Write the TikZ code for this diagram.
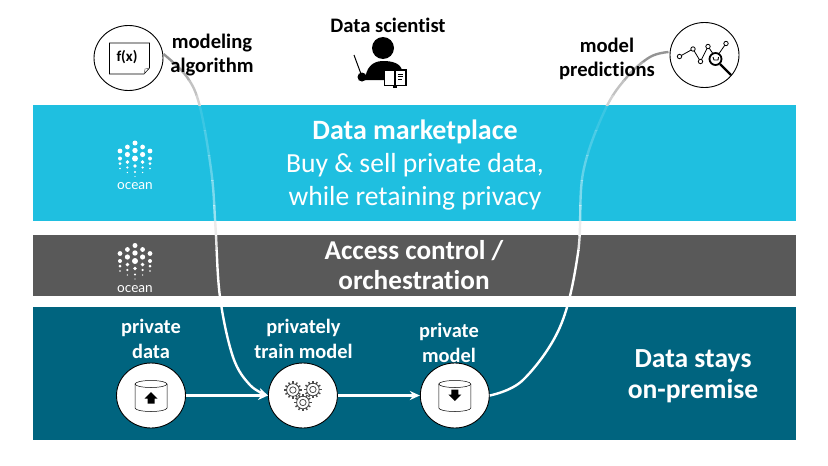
\documentclass[tikz,border=0pt]{standalone}
\usepackage{fontspec}
\setmainfont{Carlito}[Ligatures=NoCommon]
\newfontfamily\logofont{Lato}
\usetikzlibrary{arrows.meta,shapes.geometric,positioning,calc}

\definecolor{bandcyan}{HTML}{1FBFE0}
\definecolor{bandgray}{HTML}{595959}
\definecolor{bandteal}{HTML}{00647F}

% dots of the ocean logo, #1 = centre of the top dot
\newcommand{\oceandots}[2]{
  \foreach \dx/\dy/\dr in {0/0/2.5,0/7.5/2.7,0/15.5/3,0/23/1.9,0/29/1.1,0/33.5/.6,
      -7.6/4/2.4,7.6/4/2.4,-7.6/11.5/2.6,7.6/11.5/2.6,-7.6/19/1.9,7.6/19/1.9,-7.6/24.5/1.2,7.6/24.5/1.2,-7.6/29.5/.7,7.6/29.5/.7,
      -15/8/2.4,15/8/2.4,-15/15.5/2,15/15.5/2,-15/20.5/1.5,15/20.5/1.5,-15/25.5/.8,15/25.5/.8}
    \fill[#2] ($(#1)+(\dx,\dy)$) circle (\dr);
}
% one gear, #1 = centre
\newcommand{\gearicon}[1]{
  \foreach \a in {0,30,...,330}
    \draw[black!70, line width=1.4pt] ($(#1)+(\a:6)$) -- ($(#1)+(\a:8.6)$);
  \draw[black!70, line width=.8pt] (#1) circle (6.3);
  \draw[black!70, line width=.8pt] (#1) circle (3.2);
}
% drum with an arrow, #1 = centre, #2 = direction (1 up, -1 down)
\newcommand{\drumicon}[2]{
  \draw[black, line width=.5pt, fill=white] ($(#1)+(-16,-11.5)$) -- ($(#1)+(-16,12.5)$)
    arc[start angle=180, end angle=360, x radius=16, y radius=-3.5] -- ($(#1)+(16,-11.5)$);
  \draw[black, line width=.5pt] ($(#1)+(0,-11.5)$) ellipse (16 and 3.5);
  \fill[black] ($(#1)+(0,-4.5*#2+1)$) -- ++(6.5,6.5*#2) -- ++(-3,0) -- ++(0,5*#2) -- ++(-7,0) -- ++(0,-5*#2) -- ++(-3,0) -- cycle;
}
% a curve that fades out towards the top, #1 = options, #2 = path
\newcommand{\fadecurve}[2]{
  \foreach \ya/\yb/\col/\op in {40/62/black!42/1,62/80/black!32/1,80/95/black!24/1,95/105/black!18/1,
      105/130/white/.12,130/155/white/.2,155/180/white/.3,180/205/white/.42,205/221/white/.55,
      221/235/black!8/1,235/250/white/.85,250/441/white/1} {
    \begin{scope}
      \clip (0,\ya) rectangle (828,\yb);
      \draw[#1, \col, opacity=\op] #2;
    \end{scope}
  }
}

\begin{document}
\begin{tikzpicture}[x=1pt, y=-1pt,
    roundicon/.style={ellipse, draw=black, line width=.9pt, fill=white, minimum width=69pt, minimum height=65pt, inner sep=0pt},
    toplabel/.style={font=\bfseries\fontsize{20.6}{24}\selectfont, align=center, text=black, inner sep=0pt},
    steplabel/.style={font=\bfseries\fontsize{20.4}{25}\selectfont, align=center, text=white, inner sep=0pt},
    bandlabel/.style={align=center, text=white, inner sep=0pt},
    logolabel/.style={font=\logofont\fontsize{13.6}{14}\selectfont, inner sep=0pt},
    flowline/.style={-{Stealth[length=10pt, width=9pt]}, white, line width=2.2pt},
    fadeline/.style={line width=2.4pt}]

  \useasboundingbox (0,0) rectangle (828,466);
  \fill[white] (0,0) rectangle (828,466);

  % bands
  \fill[bandcyan] (33,105) rectangle (796,221);
  \fill[bandgray] (33,235) rectangle (796,296);
  \fill[bandteal] (33,307) rectangle (796,440);

  % round icons
  \node[roundicon] (fx) at (128.5,58) {};
  \node[roundicon] (pred) at (704.5,55) {};
  \node[roundicon] (datanode) at (151,395.5) {};
  \node[roundicon, right=82pt of datanode] (trainnode) {};
  \node[roundicon, right=82pt of trainnode] (modelnode) {};

  % connectors
  \draw[flowline] (datanode) -- (trainnode);
  \draw[flowline] (trainnode) -- (modelnode);
  \coordinate (fxout) at (163.5,54);
  \coordinate (predin) at (668.5,52);
  \fadecurve{fadeline, -{Stealth[length=10pt, width=9pt]}}{plot[smooth, tension=.6] coordinates
     {(fxout) (187,77) (200,107) (211.5,173) (215.5,227) (220,297) (233,357) (250,385) (trainnode.west)}}
  \fadecurve{fadeline}{plot[smooth, tension=.6] coordinates
     {(modelnode.east) (523,380) (560,327) (578,253) (583,173) (605,110) (627,77) (650,57) (predin)}}

  % labels on top
  \node[toplabel] (modelinglabel) at (212,55.5) {modeling\\algorithm};
  \node[toplabel] (scientistlabel) at (388,25) {Data scientist};
  \node[toplabel] (predlabel) at (607,59) {model\\predictions};

  % band texts
  \node[bandlabel, font=\bfseries\fontsize{28}{32}\selectfont] (markettitle) at (415,132) {Data marketplace};
  \node[bandlabel, font=\fontsize{27.6}{33.5}\selectfont, below=8.5pt of markettitle] (markettext) {Buy \& sell private data,\\while retaining privacy};
  \node[bandlabel, font=\bfseries\fontsize{27.2}{30}\selectfont] (accesstext) at (414,265) {Access control /\\orchestration};
  \node[bandlabel, font=\bfseries\fontsize{27.6}{31}\selectfont] (premisetext) at (693,376) {Data stays\\on-premise};

  \node[steplabel] (datalabel) at (151,339) {private\\data};
  \node[steplabel] (trainlabel) at (303.5,339) {privately\\train model};
  \node[steplabel] (modellabel) at (449,343) {private\\model};

  % ocean logos
  \oceandots{135,143}{white}
  \oceandots{135,245.5}{white}
  \node[logolabel, text=white] (oceanone) at (135,186) {ocean};
  \node[logolabel, text=white] (oceantwo) at (135,289) {ocean};

  % f(x) sheet
  \draw[black, line width=.6pt, fill=white] (109.5,43) -- (149.5,43) -- (149.5,68) -- (144,74) -- (109.5,74) -- cycle;
  \draw[black!60, line width=.5pt] (149.5,68) -- (145,69) -- (144,74);
  \node[font=\bfseries\fontsize{15}{15}\selectfont, inner sep=0pt] (fxtext) at (127,57) {f(x)};

  % data scientist
  \fill[black] (383,48) circle (11);
  \fill[black] (358.5,80) -- (365,80) .. controls (366,68) and (372,61) .. (383,61)
     .. controls (392,61) and (400,63) .. (402,70) -- (384,70) -- (384,80) -- cycle;
  \draw[black, line width=1pt] (354,55) -- (361,74);
  \fill[black] (362,77) circle (4.5);
  \draw[black, line width=1.3pt, fill=white] (384.5,70) rectangle (406,85.5);
  \draw[black, line width=1.3pt] (395,70) -- (395,85.5);
  \draw[black, line width=.7pt] (398,74) -- (403,74) (398,76.5) -- (403,76.5) (398,79) -- (401.5,79);
  \fill[black] (393,85.5) rectangle (397,87.5);

  % prediction chart
  \draw[black, line width=.8pt, fill=white] (679.5,56.5) coordinate (c1) -- (693,49) coordinate (c2) -- (700.5,61.5) coordinate (c3)
     -- (708,46.5) coordinate (c4) -- (716,58) coordinate (c5);
  \draw[black, line width=.8pt] (718,55) -- (726,43.5) coordinate (c6);
  \foreach \p in {c1,c2,c3,c4,c6}
    \draw[black, line width=.8pt, fill=white] (\p) circle (2.2);
  \draw[black, line width=1.8pt, fill=white] (715.5,59) circle (6);
  \draw[black, line width=.9pt] (713,57) -- (714,60) -- (718,60) -- (718.5,57);
  \draw[black, line width=2.2pt] (720,64) -- (731,75);

  % step icons
  \drumicon{datanode}{1}
  \drumicon{modelnode}{-1}
  \gearicon{$(trainnode)+(-10,-5.5)$}
  \gearicon{$(trainnode)+(10,-6)$}
  \gearicon{$(trainnode)+(0,7)$}
\end{tikzpicture}
\end{document}
